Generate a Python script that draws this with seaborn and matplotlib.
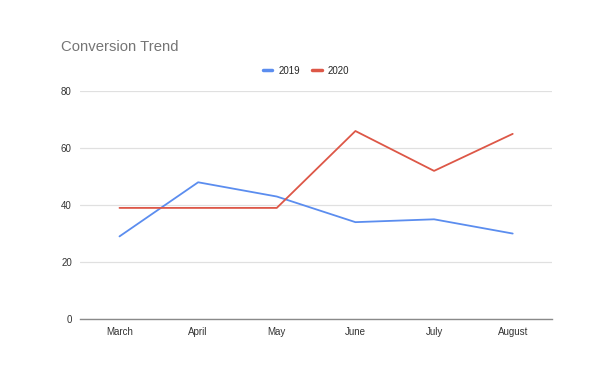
import pandas as pd
import seaborn as sns
import matplotlib.pyplot as plt

months = ['March', 'April', 'May', 'June', 'July', 'August']
conv_2019 = [29, 48, 43, 34, 35, 30]
conv_2020 = [39, 39, 39, 66, 52, 65]

df = pd.DataFrame({'month': months * 2,
                   'value': conv_2019 + conv_2020,
                   'year': ['2019'] * len(months) + ['2020'] * len(months)})

sns.set_theme(style='white')
plt.rcParams['font.family'] = ['Liberation Sans', 'DejaVu Sans']

fig = plt.figure(figsize=(6.12, 3.72), dpi=100)
ax = fig.add_axes([0.131, 0.1425, 0.771, 0.6125])

palette = {'2019': '#5b8def', '2020': '#dd5747'}
sns.lineplot(data=df, x='month', y='value', hue='year', palette=palette,
             linewidth=1.3, ax=ax, sort=False)

ax.set_xlim(-0.5, 5.5)
ax.set_ylim(0, 80)
ax.set_yticks([0, 20, 40, 60, 80])
ax.yaxis.grid(True, color='#e0e0e0', linewidth=0.9)
ax.set_axisbelow(True)
for s in ['top', 'right', 'left']:
    ax.spines[s].set_visible(False)
ax.spines['bottom'].set_color('#8a8a8a')
ax.spines['bottom'].set_linewidth(1.0)
ax.tick_params(axis='both', length=0, labelsize=7, colors='#333333', pad=6)
ax.set_xlabel('')
ax.set_ylabel('')

handles, labels = ax.get_legend_handles_labels()
ax.get_legend().remove()
leg = fig.legend(handles, labels, loc='center', bbox_to_anchor=(0.5, 0.81),
                 ncol=2, frameon=False, fontsize=7, handlelength=0.95,
                 handletextpad=0.6, columnspacing=1.3)
for line in leg.get_lines():
    line.set_linewidth(2.5)

fig.text(0.099, 0.874, 'Conversion Trend', fontsize=10.7, color='#757575',
         ha='left', va='center')

fig.savefig('out.png', dpi=100)
